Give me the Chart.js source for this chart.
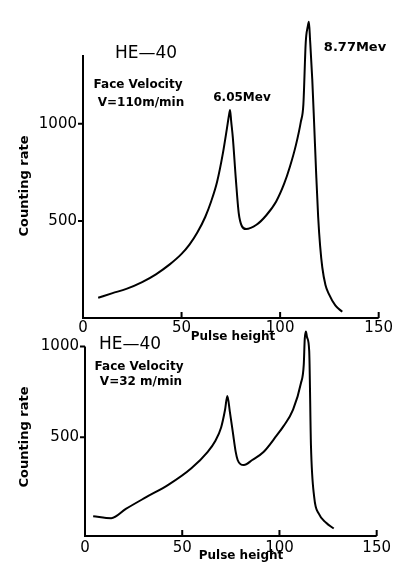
<!DOCTYPE html>
<html>
<head>
<meta charset="utf-8">
<script src="https://cdn.jsdelivr.net/npm/chart.js@4"></script>
<style>
  body { margin: 0; background: #fff; }
  #wrap { position: relative; width: 394px; height: 563px; }
  canvas { position: absolute; left: 0; }
</style>
</head>
<body>
<div id="wrap">
  <canvas id="arriba" width="394" height="345" style="top:0"></canvas>
  <canvas id="abajo" width="394" height="253" style="top:310px"></canvas>
</div>
<script>
// Datos (pulse height vs counting rate)
const pulsoArriba = [7.7, 15, 22, 30, 37, 44, 50, 54, 58, 62, 65, 68, 71, 73, 74, 74.6, 75.2, 76, 77.5, 79, 80.5, 82.7, 88, 93, 98, 102, 105, 108, 110.5, 111.8, 113, 114, 114.6, 115.2, 116.3, 117.3, 118.3, 119.3, 120.3, 121.4, 123, 124.7, 128, 131.5];
const cuentasArriba = [104, 128, 150, 185, 225, 276, 330, 378, 440, 520, 600, 700, 850, 975, 1040, 1071, 1010, 930, 720, 540, 475, 458, 480, 529, 600, 690, 780, 890, 1010, 1100, 1420, 1500, 1525, 1430, 1230, 990, 740, 520, 370, 260, 170, 124, 65, 32];

const pulsoAbajo = [4.2, 13.5, 21, 31, 43, 54.7, 63, 67, 70, 72, 73.2, 74.5, 76, 77.5, 78.5, 80, 81.7, 86, 91.8, 98.5, 102, 107, 111, 112.5, 113, 113.6, 114.2, 115.3, 116.2, 117.9, 120.3, 124, 127.9];
const cuentasAbajo = [66, 55, 106, 168, 240, 330, 419, 480, 554, 650, 727, 640, 530, 420, 375, 352, 348, 375, 419, 509, 560, 652, 796, 900, 1040, 1082, 1050, 975, 455, 168, 79, 30, -2];

const ticksX = [0, 50, 100, 150];
const ticksY = [500, 1000];

const FUENTE = '"DejaVu Sans", sans-serif';

// Dibuja los ejes a mano (el eje Y no llega hasta arriba) y los textos
const ejes = {
  id: 'ejes',
  afterDraw(chart, args, o) {
    const ctx = chart.ctx;
    const sx = chart.scales.x, sy = chart.scales.y;
    const x0 = sx.getPixelForValue(0);
    const yb = chart.chartArea.bottom;
    ctx.save();
    ctx.strokeStyle = '#000';
    ctx.lineWidth = 2;
    ctx.beginPath();
    ctx.moveTo(x0, sy.getPixelForValue(o.topeEje));
    ctx.lineTo(x0, yb);
    ctx.lineTo(sx.getPixelForValue(150), yb);
    for (const v of ticksY) {
      const py = sy.getPixelForValue(v);
      ctx.moveTo(x0 - 5, py);
      ctx.lineTo(x0, py);
    }
    for (const v of ticksX.slice(1)) {
      const px = sx.getPixelForValue(v);
      ctx.moveTo(px, yb);
      ctx.lineTo(px, yb - 6);
    }
    ctx.stroke();

    ctx.fillStyle = '#000';
    ctx.textAlign = 'center';
    ctx.textBaseline = 'middle';
    for (const t of o.textos) {
      ctx.font = t.f + ' ' + FUENTE;
      if (t.rot) {
        ctx.save();
        ctx.translate(t.x, t.y);
        ctx.rotate(-Math.PI / 2);
        ctx.fillText(t.t, 0, 0);
        ctx.restore();
      } else {
        ctx.fillText(t.t, t.x, t.y);
      }
    }
    ctx.restore();
  }
};

function crearGrafica(id, xs, ys, cfg) {
  const puntos = xs.map((x, i) => ({ x: x, y: ys[i] }));
  return new Chart(document.getElementById(id), {
    type: 'line',
    data: {
      datasets: [{
        data: puntos,
        borderColor: '#000',
        borderWidth: 2,
        pointRadius: 0,
        cubicInterpolationMode: 'monotone',
        fill: false
      }]
    },
    options: {
      responsive: false,
      animation: false,
      layout: { padding: { left: 0, right: cfg.derecha, top: cfg.arriba, bottom: 0 } },
      plugins: {
        legend: { display: false },
        tooltip: { enabled: false },
        ejes: { topeEje: cfg.topeEje, textos: cfg.textos }
      },
      scales: {
        x: {
          type: 'linear',
          min: 0,
          max: 150,
          grid: { display: false, drawTicks: false },
          border: { display: false },
          afterBuildTicks: s => { s.ticks = ticksX.map(v => ({ value: v })); },
          afterFit: s => { s.height = cfg.altoX; },
          ticks: { color: '#000', padding: cfg.padX, maxRotation: 0, font: { family: FUENTE, size: 15 }, callback: v => String(v) }
        },
        y: {
          min: cfg.yMin,
          max: cfg.yMax,
          grid: { display: false, drawTicks: false },
          border: { display: false },
          afterBuildTicks: s => { s.ticks = ticksY.map(v => ({ value: v })); },
          afterFit: s => { s.width = cfg.anchoY; },
          ticks: { color: '#000', padding: 6, font: { family: FUENTE, size: 15 }, callback: v => String(v) }
        }
      }
    },
    plugins: [ejes]
  });
}

crearGrafica('arriba', pulsoArriba, cuentasArriba, {
  yMin: 0, yMax: 1560, topeEje: 1354,
  anchoY: 83, altoX: 27, derecha: 14, arriba: 9, padX: 1,
  textos: [
    { t: 'HE—40', x: 146, y: 54, f: '17px' },
    { t: 'Face Velocity', x: 138, y: 85, f: 'bold 12px' },
    { t: 'V=110m/min', x: 141, y: 103, f: 'bold 12px' },
    { t: '6.05Mev', x: 242, y: 98, f: 'bold 12px' },
    { t: '8.77Mev', x: 355, y: 48, f: 'bold 13px' },
    { t: 'Pulse height', x: 233, y: 337, f: 'bold 12px' },
    { t: 'Counting rate', x: 25, y: 186, f: 'bold 13px', rot: true }
  ]
});

crearGrafica('abajo', pulsoAbajo, cuentasAbajo, {
  yMin: -43, yMax: 1118, topeEje: 1000,
  anchoY: 85, altoX: 27, derecha: 12, arriba: 10, padX: 3,
  textos: [
    { t: 'HE—40', x: 130, y: 35, f: '17px' },
    { t: 'Face Velocity', x: 139, y: 57, f: 'bold 12px' },
    { t: 'V=32 m/min', x: 141, y: 72, f: 'bold 12px' },
    { t: 'Pulse height', x: 241, y: 246, f: 'bold 12px' },
    { t: 'Counting rate', x: 25, y: 127, f: 'bold 13px', rot: true }
  ]
});
</script>
</body>
</html>
